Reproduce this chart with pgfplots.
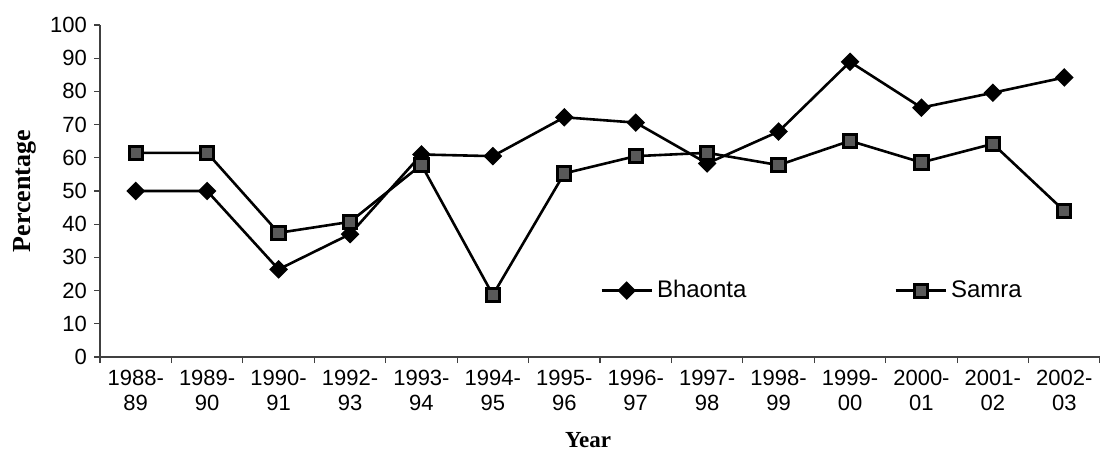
\documentclass[border=0pt]{standalone}
\usepackage{fontspec}
\setmainfont{Liberation Sans}
\newfontfamily\serifbf{Liberation Serif}
\usepackage{pgfplots}
\pgfplotsset{compat=1.18}

\pgfplotstableread{
x bhaonta samra
0 50.0 61.5
1 50.0 61.5
2 26.4 37.4
3 37.0 40.7
4 61.0 57.9
5 60.5 18.7
6 72.2 55.3
7 70.6 60.5
8 58.3 61.5
9 67.9 57.8
10 88.9 65.1
11 75.1 58.6
12 79.6 64.2
13 84.2 44.0
}\datatable

\begin{document}
\begin{tikzpicture}
\begin{axis}[
  name=ax,
  scale only axis,
  width=500pt, height=166pt,
  xmin=-0.5, xmax=13.5, ymin=0, ymax=100,
  ytick={0,10,...,100},
  xtick={0,...,13},
  xticklabels={1988-\\89,1989-\\90,1990-\\91,1992-\\93,1993-\\94,1994-\\95,1995-\\96,1996-\\97,1997-\\98,1998-\\99,1999-\\00,2000-\\01,2001-\\02,2002-\\03},
  major x tick style={draw=none},
  minor xtick={-0.5,0.5,...,13.5},
  axis x line*=bottom, axis y line*=left,
  axis line style={-, black!75, line width=0.6pt},
  tick style={black!75, line width=0.6pt},
  tick align=outside,
  major tick length=3pt, minor tick length=3pt,
  /pgf/number format/assume math mode=true,
  tick label style={font=\fontsize{11}{12.5}\selectfont},
  xticklabel style={align=center},
  ylabel={\serifbf\bfseries\fontsize{13}{15}\selectfont Percentage},
  xlabel={\serifbf\bfseries\fontsize{11.5}{14}\selectfont Year},
  ylabel style={at={(axis description cs:0,0.5)}, yshift=37.5pt, anchor=center},
  xlabel style={at={(axis description cs:0.488,0)}, yshift=-41.5pt, anchor=center},
  legend columns=2,
  legend style={at={(0.5,0.2)}, anchor=west, draw=none, fill=none, inner sep=0pt,
    font=\fontsize{12}{14}\selectfont,
    /tikz/every even column/.append style={column sep=72pt}},
  legend image code/.code={\draw[mark repeat=2,mark phase=2] plot coordinates {(0pt,0pt) (12.5pt,0pt) (25pt,0pt)};},
]
\addplot[black, line width=1.3pt, mark=square*, mark size=2.65pt, mark options={rotate=45, fill=black, solid}] table[x=x, y=bhaonta] {\datatable};
\addlegendentry{Bhaonta}
\addplot[black, line width=1.3pt, mark=square*, mark size=3.3pt, mark options={fill=black!65, draw=black, line width=1.5pt, solid}] table[x=x, y=samra] {\datatable};
\addlegendentry{Samra}
\end{axis}
\pgfresetboundingbox
\path ([xshift=-50pt,yshift=-51.5pt]ax.south west) rectangle ([yshift=12.5pt]ax.north east);
\end{tikzpicture}
\end{document}
